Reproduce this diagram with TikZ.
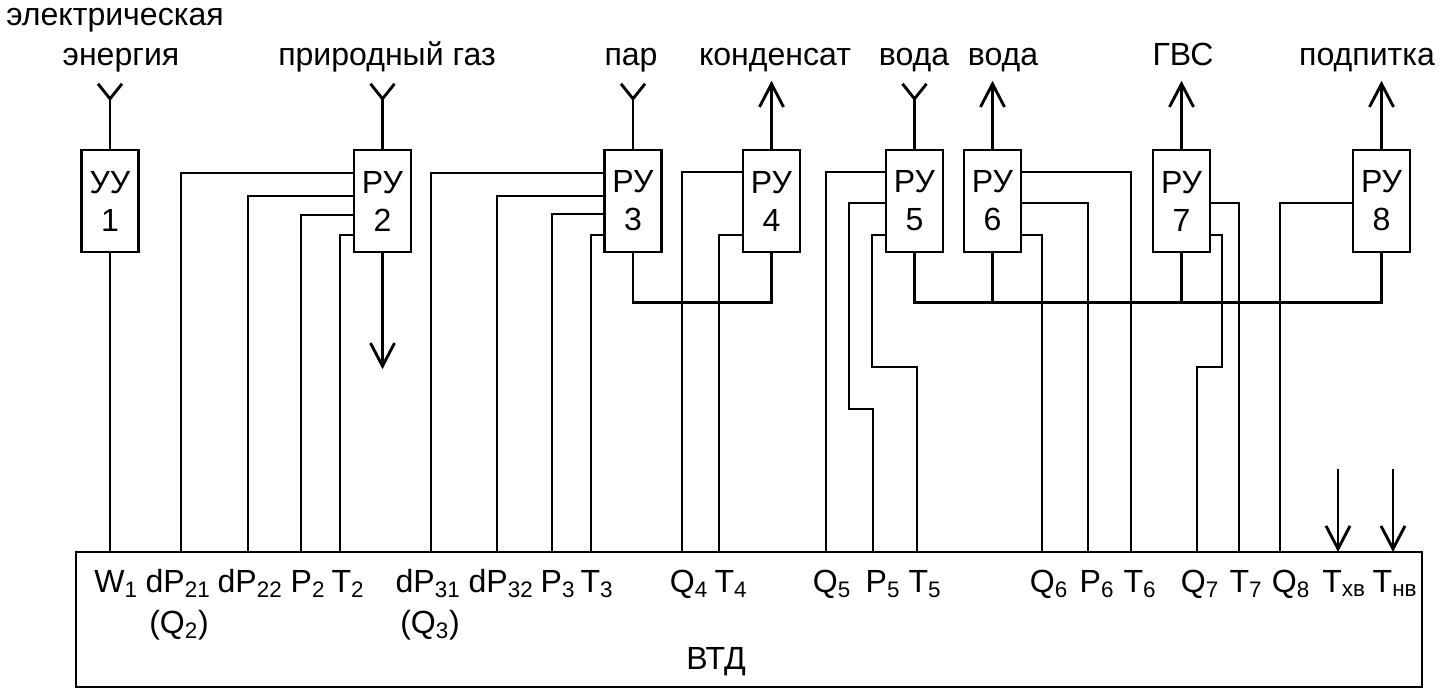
\documentclass[tikz,border=0pt]{standalone}
\usepackage{fontspec}
\setmainfont{Liberation Sans}
\usetikzlibrary{arrows.meta}

\begin{document}
\begin{tikzpicture}[x=0.25mm, y=-0.25mm, line width=0.72mm, >={Straight Barb[length=5.75mm, width=6mm]}, txt/.style={font=\fontsize{22.8}{27}\selectfont, inner sep=0pt}, sig/.style={txt, anchor=base}, unit/.style={rectangle, draw, line width=0.6mm, minimum width=14.25mm, minimum height=25.5mm, align=center, txt}]
  \useasboundingbox (0,0) rectangle (1453,689);
  % devices
  \node[unit] (uu1) at (110,201) {УУ\\1};
  \node[unit] (ru2) at (382.5,201) {РУ\\2};
  \node[unit] (ru3) at (633,201) {РУ\\3};
  \node[unit] (ru4) at (771.5,201) {РУ\\4};
  \node[unit] (ru5) at (914.5,201) {РУ\\5};
  \node[unit] (ru6) at (992.5,201) {РУ\\6};
  \node[unit] (ru7) at (1181.5,201) {РУ\\7};
  \node[unit] (ru8) at (1381.5,201) {РУ\\8};
  \node[draw, minimum width=336.5mm, minimum height=33.75mm, inner sep=0pt] (vtd) at (749,619.5) {};
  \node[txt] (vtdname) at (716,662) {ВТД};
  % media
  \node[sig] (elec1) at (115,25) {электрическая};
  \node[sig] (elec2) at (121,65) {энергия};
  \node[sig] (gas) at (387,65) {природный газ};
  \node[sig] (steam) at (631,65) {пар};
  \node[sig] (cond) at (775,65) {конденсат};
  \node[sig] (wtrin) at (914,65) {вода};
  \node[sig] (wtrout) at (1003,65) {вода};
  \node[sig] (dhw) at (1183,65) {ГВС};
  \node[sig] (feed) at (1367,65) {подпитка};
  % inputs of the recorder
  \coordinate (W1) at (110,552);
  \coordinate (dP21) at (181,552);
  \coordinate (dP22) at (248,552);
  \coordinate (P2) at (301,552);
  \coordinate (T2) at (340,552);
  \coordinate (dP31) at (431,552);
  \coordinate (dP32) at (497,552);
  \coordinate (P3) at (552,552);
  \coordinate (T3) at (591,552);
  \coordinate (Q4) at (682,552);
  \coordinate (T4) at (719,552);
  \coordinate (Q5) at (826,552);
  \coordinate (P5) at (873,552);
  \coordinate (T5) at (917,552);
  \coordinate (Q6) at (1042,552);
  \coordinate (P6) at (1088,552);
  \coordinate (T6) at (1131,552);
  \coordinate (Q7) at (1197,552);
  \coordinate (T7) at (1239,552);
  \coordinate (Q8) at (1280,552);
  \coordinate (Txv) at (1338,552);
  \coordinate (Tnv) at (1393,552);
  \coordinate (srcTxv) at (1338,469);
  \coordinate (srcTnv) at (1393,469);
  \node[sig] (lW1) at (116,592) {W\textsubscript{1}};
  \node[sig] (ldP21) at (178,592) {dP\textsubscript{21}};
  \node[sig] (lQ2) at (179,633) {(Q\textsubscript{2})};
  \node[sig] (ldP22) at (250,592) {dP\textsubscript{22}};
  \node[sig] (lP2) at (308,592) {P\textsubscript{2}};
  \node[sig] (lT2) at (348,592) {T\textsubscript{2}};
  \node[sig] (ldP31) at (428,592) {dP\textsubscript{31}};
  \node[sig] (lQ3) at (430,633) {(Q\textsubscript{3})};
  \node[sig] (ldP32) at (501,592) {dP\textsubscript{32}};
  \node[sig] (lP3) at (558,592) {P\textsubscript{3}};
  \node[sig] (lT3) at (597,592) {T\textsubscript{3}};
  \node[sig] (lQ4) at (689,592) {Q\textsubscript{4}};
  \node[sig] (lT4) at (731,592) {T\textsubscript{4}};
  \node[sig] (lQ5) at (832,592) {Q\textsubscript{5}};
  \node[sig] (lP5) at (883,592) {P\textsubscript{5}};
  \node[sig] (lT5) at (925,592) {T\textsubscript{5}};
  \node[sig] (lQ6) at (1049,592) {Q\textsubscript{6}};
  \node[sig] (lP6) at (1097,592) {P\textsubscript{6}};
  \node[sig] (lT6) at (1140,592) {T\textsubscript{6}};
  \node[sig] (lQ7) at (1200,592) {Q\textsubscript{7}};
  \node[sig] (lT7) at (1246,592) {T\textsubscript{7}};
  \node[sig] (lQ8) at (1291,592) {Q\textsubscript{8}};
  \node[sig] (lTxv) at (1344,592) {T\textsubscript{хв}};
  \node[sig] (lTnv) at (1395,592) {T\textsubscript{нв}};
  % feeds and outlets
  \draw (uu1.north) -- ++(0,-50) coordinate (in1);
  \draw (in1) ++(-12,-15) -- (in1) -- ++(12,-15);
  \draw (ru2.north) -- ++(0,-50) coordinate (in2);
  \draw (in2) ++(-12,-15) -- (in2) -- ++(12,-15);
  \draw (ru3.north) -- ++(0,-50) coordinate (in3);
  \draw (in3) ++(-12,-15) -- (in3) -- ++(12,-15);
  \draw (ru5.north) -- ++(0,-50) coordinate (in5);
  \draw (in5) ++(-12,-15) -- (in5) -- ++(12,-15);
  \draw[->] (ru2.south) -- ++(0,116);
  \draw[->] (ru4.north) -- ++(0,-68);
  \draw[->] (ru6.north) -- ++(0,-68);
  \draw[->] (ru7.north) -- ++(0,-68);
  \draw[->] (ru8.north) -- ++(0,-68);
  \draw[->] (srcTxv) -- (Txv);
  \draw[->] (srcTnv) -- (Tnv);
  % signal lines
  \draw (uu1.south) -- (W1);
  \draw (ru2.west |- 0,173) -| (dP21);
  \draw (ru2.west |- 0,196) -| (dP22);
  \draw (ru2.west |- 0,215) -| (P2);
  \draw (ru2.west |- 0,235) -| (T2);
  \draw (ru3.west |- 0,173) -| (dP31);
  \draw (ru3.west |- 0,196) -| (dP32);
  \draw (ru3.west |- 0,214) -| (P3);
  \draw (ru3.west |- 0,235) -| (T3);
  \draw (ru4.west |- 0,172) -| (Q4);
  \draw (ru4.west |- 0,235) -| (T4);
  \draw (ru5.west |- 0,172) -| (Q5);
  \draw (ru5.west |- 0,203) -| (849,409) -| (P5);
  \draw (ru5.west |- 0,235) -| (872,367) -| (T5);
  \draw (ru6.east |- 0,172) -| (T6);
  \draw (ru6.east |- 0,203) -| (P6);
  \draw (ru6.east |- 0,235) -| (Q6);
  \draw (ru7.east |- 0,203) -| (T7);
  \draw (ru7.east |- 0,235) -| (1222,367) -| (Q7);
  \draw (ru8.west |- 0,203) -| (Q8);
  % common lines
  \draw (ru3.south) -- ++(0,49) -| (ru4.south);
  \draw (ru5.south) -- ++(0,49) -| (ru8.south);
  \draw (ru6.south) -- ++(0,49);
  \draw (ru7.south) -- ++(0,49);
\end{tikzpicture}
\end{document}
